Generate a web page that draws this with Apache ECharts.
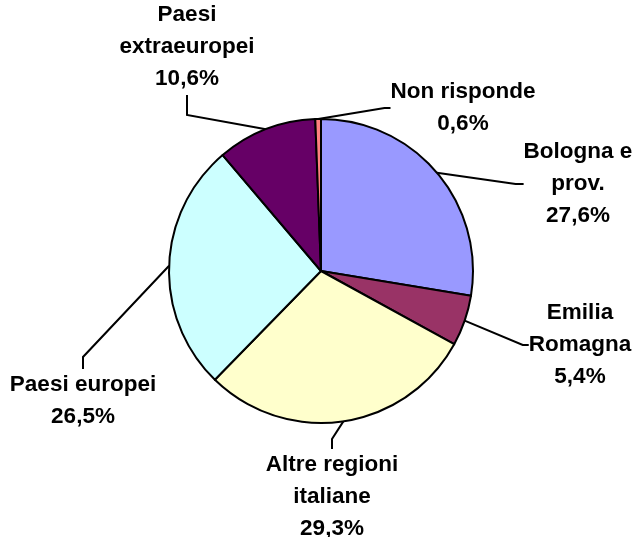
<!DOCTYPE html>
<html>
<head>
<meta charset="utf-8">
<script src="https://cdn.jsdelivr.net/npm/echarts@6/dist/echarts.min.js"></script>
<style>html,body{margin:0;padding:0;background:#fff;}#c{width:638px;height:537px;}</style>
</head>
<body>
<div id="c"></div>
<script>
const categories = ['Bologna e\nprov.', 'Emilia\nRomagna', 'Altre regioni\nitaliane', 'Paesi europei', 'Paesi\nextraeuropei', 'Non risponde'];
const values = [27.6, 5.4, 29.3, 26.5, 10.6, 0.6];
const colors = ['#9999FF', '#993366', '#FFFFCC', '#CCFFFF', '#660066', '#FF8080'];

// label anchor positions (centre of text block), layout only
const labelCenters = [[578, 184], [580, 345], [332, 497], [83, 401], [187, 47], [463, 108]];
const lineLen = [8, 6, 10, 12, 20, 6];

const chart = echarts.init(document.getElementById('c'), null, {renderer: 'canvas'});
chart.setOption({
  animation: false,
  backgroundColor: '#ffffff',
  series: [{
    type: 'pie',
    center: [321, 271],
    radius: 152,
    startAngle: 90,
    clockwise: true,
    avoidLabelOverlap: false,
    data: categories.map((n, i) => ({
      name: n,
      value: values[i],
      itemStyle: {color: colors[i]},
      labelLine: {length2: lineLen[i]}
    })),
    itemStyle: {borderColor: '#000', borderWidth: 2},
    label: {
      show: true,
      position: 'outside',
      formatter: p => p.name + '\n' + p.value.toFixed(1).replace('.', ',') + '%',
      fontFamily: 'Liberation Sans, Arial, sans-serif',
      fontWeight: 'bold',
      fontSize: 22.5,
      lineHeight: 32,
      color: '#000',
      align: 'center'
    },
    labelLine: {
      show: true,
      length: 10,
      length2: 10,
      smooth: false,
      lineStyle: {color: '#000', width: 2}
    },
    labelLayout: function (params) {
      const p = labelCenters[params.dataIndex];
      return {x: p[0], y: p[1], align: 'center', verticalAlign: 'middle'};
    },
    emphasis: {disabled: true}
  }]
});
</script>
</body>
</html>
